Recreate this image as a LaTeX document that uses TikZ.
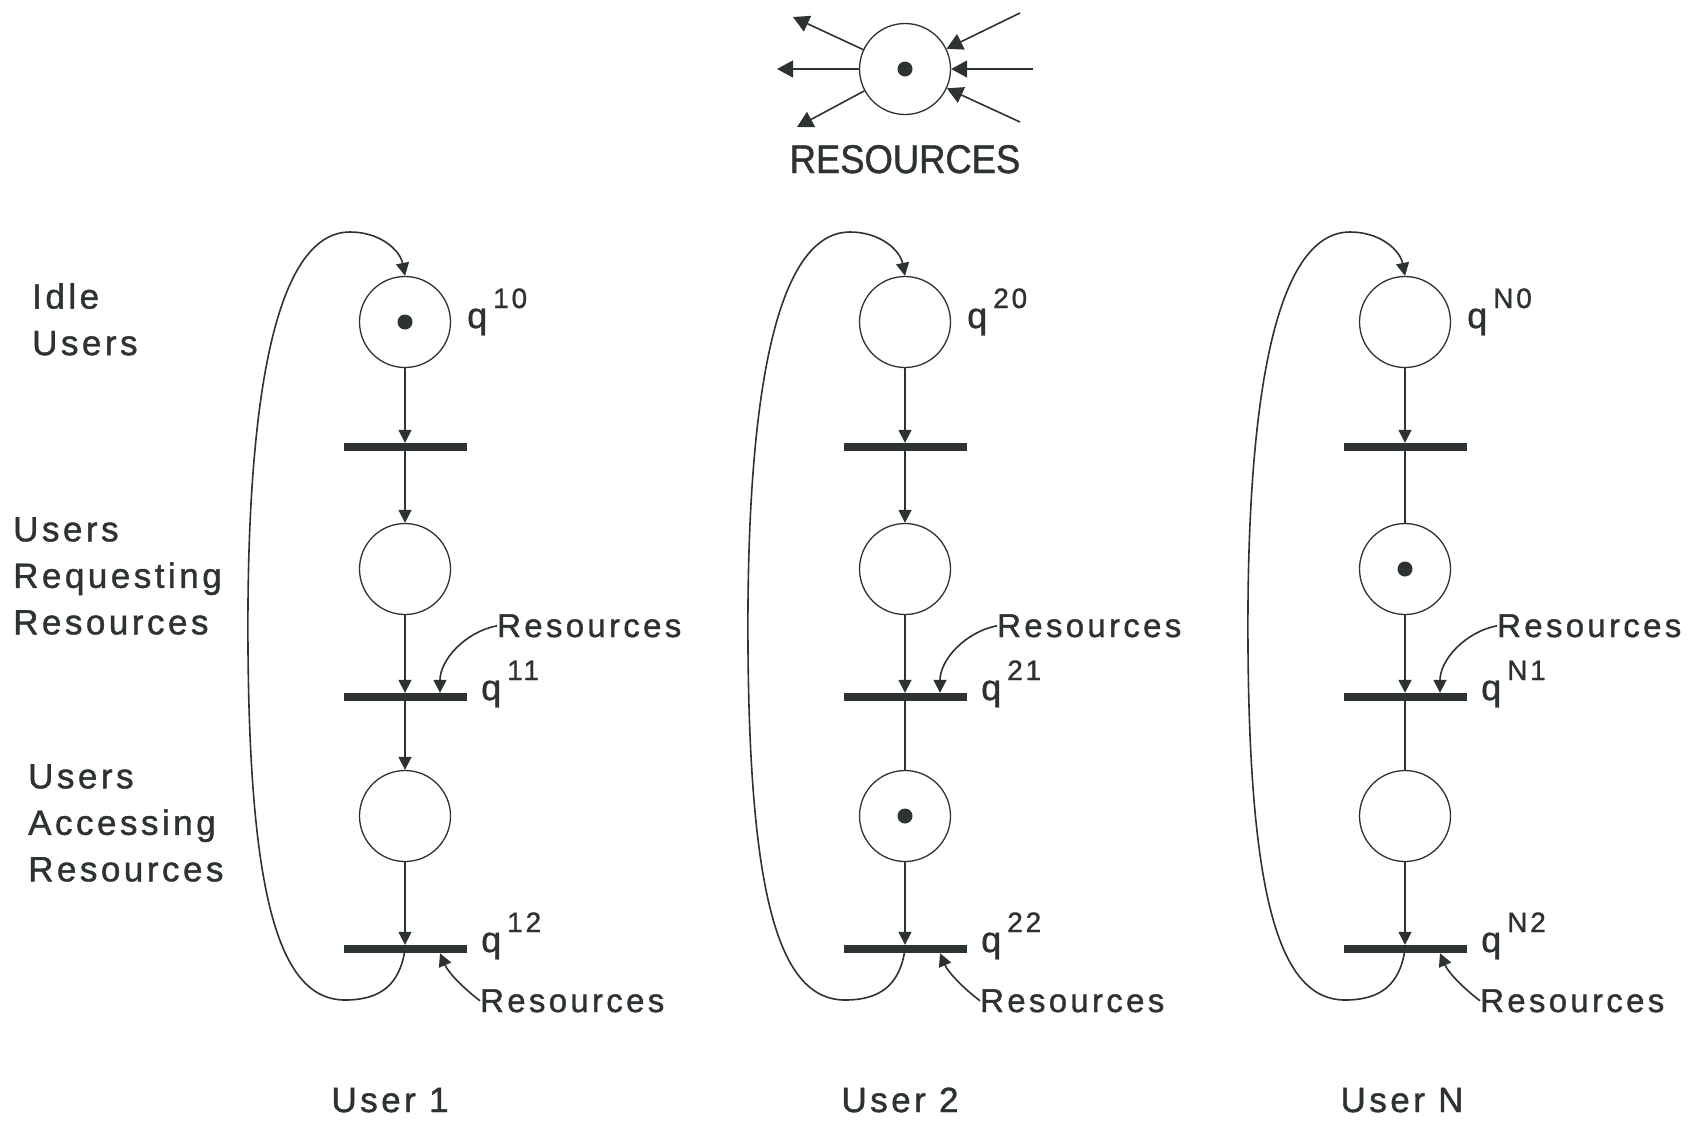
\documentclass[tikz,border=0pt]{standalone}
\usepackage{fontspec}
\setmainfont{Liberation Sans}[FakeBold=1.2]
\newfontfamily\lsf[LetterSpace=10,FakeBold=1.2]{Liberation Sans}
\usetikzlibrary{arrows.meta}
\definecolor{ink}{RGB}{45,52,48}
\newcommand\qsup[1]{\raisebox{20pt}{\fontsize{28}{28}\selectfont #1}}
\begin{document}
\begin{tikzpicture}[x=1pt,y=-1pt,
  place/.style={circle, draw=ink, line width=1.3pt, minimum size=91pt, inner sep=0pt},
  trans/.style={rectangle, fill=ink, minimum width=123pt, minimum height=8pt, inner sep=0pt},
  arc/.style={draw=ink, line width=1.6pt, -{Triangle[width=13pt,length=13pt]}},
  bigarc/.style={draw=ink, line width=1.6pt, -{Triangle[width=17pt,length=16pt]}},
  plain/.style={draw=ink, line width=1.6pt},
  lbl/.style={text=ink, inner sep=0pt, font=\lsf\fontsize{35}{46.5}\selectfont},
  lbls/.style={text=ink, inner sep=0pt, font=\lsf\fontsize{33}{40}\selectfont},
  qlbl/.style={text=ink, inner sep=0pt, anchor=base west, font=\lsf\fontsize{36}{40}\selectfont}]
\useasboundingbox[fill=white] (0,0) rectangle (1704,1120);

% resources place
\node[place] (R) at (905,69) {};
\fill[ink] (R.center) circle (7.5);
\coordinate (o1) at (793,17);
\coordinate (o2) at (777,69);
\coordinate (o3) at (797,127);
\coordinate (i1) at (1020,13);
\coordinate (i2) at (1033,69);
\coordinate (i3) at (1020,122);
\draw[bigarc] (R) -- (o1);
\draw[bigarc] (R) -- (o2);
\draw[bigarc] (R) -- (o3);
\draw[bigarc] (i1) -- (R);
\draw[bigarc] (i2) -- (R);
\draw[bigarc] (i3) -- (R);
\node[text=ink, inner sep=0pt, anchor=base] (RL) at (905,173)
  {\scalebox{0.91}[1]{\fontsize{40}{40}\selectfont RESOURCES}};

% left labels
\node[lbl, anchor=north west, align=left] (L1) at (32,283) {Idle\\Users};
\node[lbl, anchor=north west, align=left] (L2) at (13,517) {Users\\Requesting\\Resources};
\node[lbl, anchor=north west, align=left] (L3) at (28,764) {Users\\Accessing\\Resources};

% user columns
\foreach \c/\x/\u in {1/405/390, 2/905/900, N/1405/1402}{
  \node[place] (p\c0) at (\x,322) {};
  \node[trans] (t\c0) at (\x,447) {};
  \node[place] (p\c1) at (\x,569) {};
  \node[trans] (t\c1) at (\x,697) {};
  \node[place] (p\c2) at (\x,816) {};
  \node[trans] (t\c2) at (\x,949) {};
  \node[qlbl] (q\c0) at (\x+62,328) {q\,\qsup{\c0}};
  \node[qlbl] (q\c1) at (\x+76,700) {q\,\qsup{\c1}};
  \node[qlbl] (q\c2) at (\x+76,952) {q\,\qsup{\c2}};
  \draw[arc] (p\c0) -- (t\c0);
  \draw[arc] (p\c1) -- (t\c1);
  \draw[arc] (p\c2) -- (t\c2);
  % loop back
  \draw[arc] (t\c2.center) .. controls (\x-5,985) and (\x-25,1000) .. (\x-60,1000)
     .. controls (\x-125,1000) and (\x-155,900) .. (\x-157,650)
     .. controls (\x-159,400) and (\x-130,232) .. (\x-55,232)
     .. controls (\x-25,232) and (\x-5,250) .. (p\c0.north);
  % resources inputs
  \node[lbls, anchor=base west] (ru\c) at (\x+92,637) {Resources};
  \node[lbls, anchor=base west] (rl\c) at (\x+75,1012) {Resources};
  \draw[arc] (ru\c.west) .. controls (\x+60,632) and (\x+35,660) .. ([xshift=35pt]t\c1.north);
  \draw[arc] (rl\c.west) .. controls (\x+57,987) and (\x+43,972) .. ([xshift=35pt]t\c2.south);
  \node[lbl, anchor=base] (user\c) at (\u,1112) {User \c};
}
% arcs from transitions to places (arrowheads as drawn)
\draw[arc] (t10) -- (p11);
\draw[arc] (t11) -- (p12);
\draw[arc] (t20) -- (p21);
\draw[plain] (t21) -- (p22);
\draw[plain] (tN0) -- (pN1);
\draw[plain] (tN1) -- (pN2);
% tokens
\fill[ink] (p10.center) circle (7.5);
\fill[ink] (p22.center) circle (7.5);
\fill[ink] (pN1.center) circle (7.5);
\end{tikzpicture}
\end{document}
